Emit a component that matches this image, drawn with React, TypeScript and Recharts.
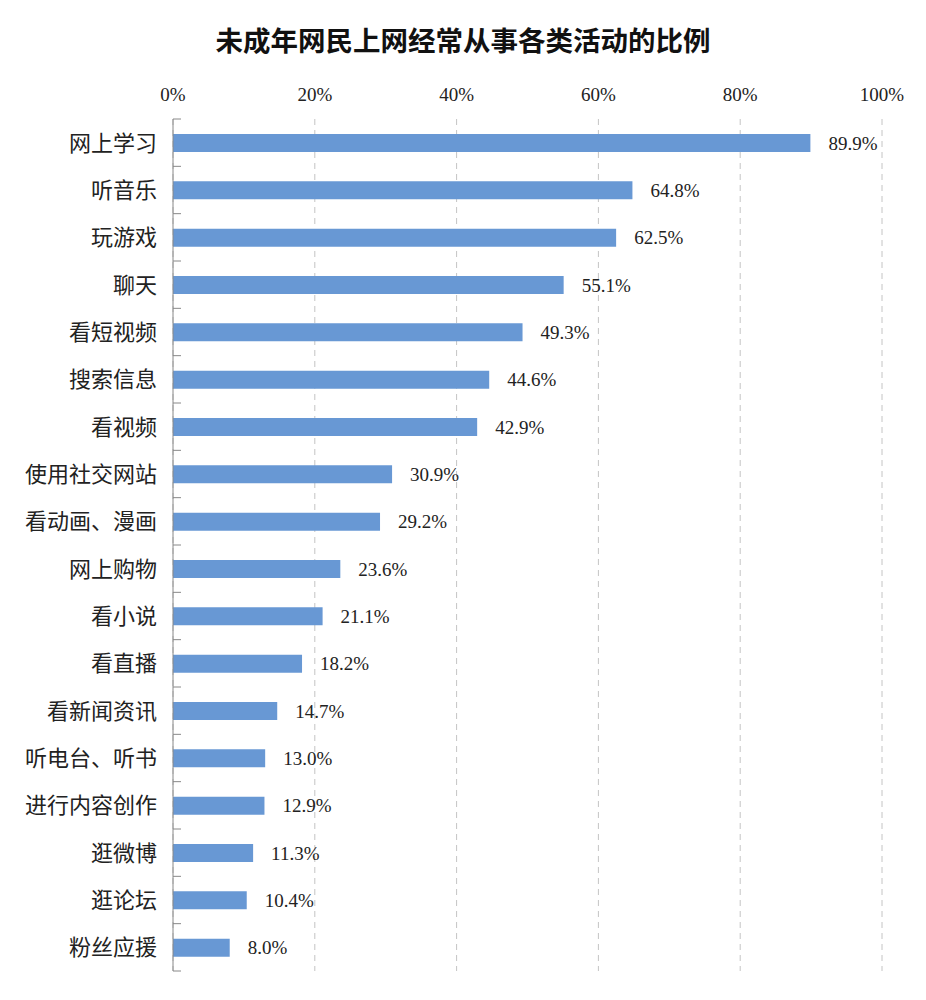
import { BarChart, Bar, XAxis, YAxis, CartesianGrid, LabelList } from 'recharts';

const activities = [
  '网上学习', '听音乐', '玩游戏', '聊天', '看短视频', '搜索信息', '看视频', '使用社交网站',
  '看动画、漫画', '网上购物', '看小说', '看直播', '看新闻资讯', '听电台、听书',
  '进行内容创作', '逛微博', '逛论坛', '粉丝应援',
];
const shares = [89.9, 64.8, 62.5, 55.1, 49.3, 44.6, 42.9, 30.9, 29.2, 23.6, 21.1, 18.2, 14.7, 13.0, 12.9, 11.3, 10.4, 8.0];
const percentTicks = [0, 20, 40, 60, 80, 100];

const data = activities.map((name, i) => ({ name, value: shares[i] }));

const BAND = (971 - 119) / activities.length;

// category label plus the little boundary tick Excel draws between categories
function CategoryTick(props: any) {
  const { x, y, payload, index } = props;
  const axisX = x + 8;
  const top = y - BAND / 2;
  return (
    <g>
      <line x1={axisX} x2={axisX + 8} y1={top} y2={top} stroke="#888" />
      {index === activities.length - 1 && (
        <line x1={axisX} x2={axisX + 8} y1={y + BAND / 2} y2={y + BAND / 2} stroke="#888" />
      )}
      <text x={x - 8} y={y} dy={8} textAnchor="end" fontSize={22} fill="#222"
        fontFamily='"Noto Sans CJK SC", "Noto Sans", sans-serif'>
        {payload.value}
      </text>
    </g>
  );
}

export default function App() {
  return (
    <div style={{ position: 'absolute', left: 0, top: 0, width: 926, height: 1000, background: '#fff' }}>
      <div style={{
        position: 'absolute', top: 19, left: 0, width: 926, textAlign: 'center',
        fontFamily: '"Noto Sans CJK SC", sans-serif', fontWeight: 700, fontSize: 27.5, color: '#111',
      }}>
        未成年网民上网经常从事各类活动的比例
      </div>
      <BarChart
        width={926}
        height={1000}
        data={data}
        layout="vertical"
        margin={{ top: 60, right: 44, bottom: 29, left: 0 }}
        barSize={18}
      >
        <CartesianGrid horizontal={false} strokeDasharray="6 5" stroke="#c4c4c4" />
        <XAxis
          type="number"
          orientation="top"
          domain={[0, 100]}
          ticks={percentTicks}
          tickFormatter={(v: number) => `${v}%`}
          axisLine={false}
          tickLine={false}
          height={59}
          tickMargin={12}
          tick={{ fontSize: 19, fill: '#222', fontFamily: '"Liberation Serif", serif' }}
        />
        <YAxis
          type="category"
          dataKey="name"
          width={173}
          axisLine={{ stroke: '#888' }}
          tickLine={false}
          tick={<CategoryTick />}
          interval={0}
        />
        <Bar dataKey="value" fill="#6898d4" isAnimationActive={false}>
          <LabelList
            dataKey="value"
            position="right"
            offset={18}
            formatter={(v: any) => `${Number(v).toFixed(1)}%`}
            style={{ fontSize: 19, fill: '#222', fontFamily: '"Liberation Serif", serif' }}
          />
        </Bar>
      </BarChart>
    </div>
  );
}
